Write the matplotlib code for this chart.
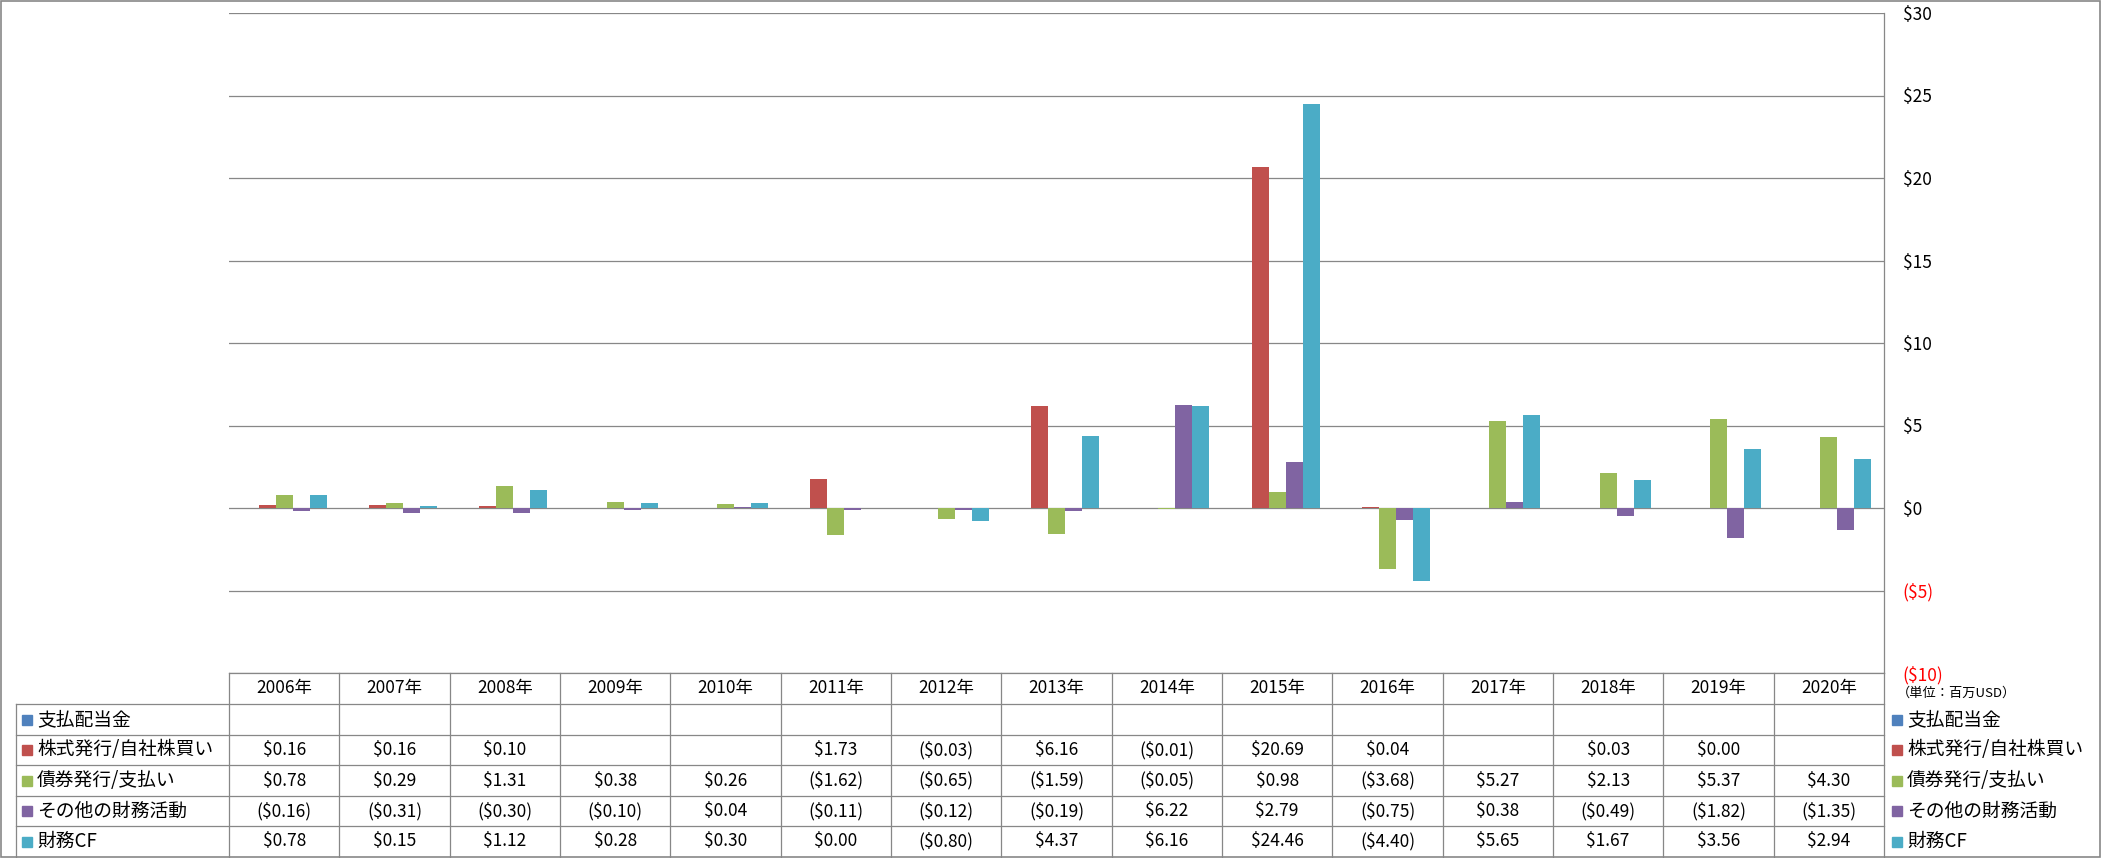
import numpy as np
import matplotlib
matplotlib.use("Agg")
import matplotlib.pyplot as plt
from matplotlib.lines import Line2D
from matplotlib.patches import Rectangle

plt.rcParams['font.family'] = ['Noto Sans CJK JP', 'DejaVu Sans']

# data (百万USD)
years = ["2006年", "2007年", "2008年", "2009年", "2010年", "2011年", "2012年", "2013年",
         "2014年", "2015年", "2016年", "2017年", "2018年", "2019年", "2020年"]
series_names = ["支払配当金", "株式発行/自社株買い", "債券発行/支払い", "その他の財務活動", "財務CF"]
dividends = [None] * 15
stock = [0.16, 0.16, 0.10, None, None, 1.73, -0.03, 6.16, -0.01, 20.69, 0.04, None, 0.03, 0.00, None]
bonds = [0.78, 0.29, 1.31, 0.38, 0.26, -1.62, -0.65, -1.59, -0.05, 0.98, -3.68, 5.27, 2.13, 5.37, 4.30]
other = [-0.16, -0.31, -0.30, -0.10, 0.04, -0.11, -0.12, -0.19, 6.22, 2.79, -0.75, 0.38, -0.49, -1.82, -1.35]
fin_cf = [0.78, 0.15, 1.12, 0.28, 0.30, 0.00, -0.80, 4.37, 6.16, 24.46, -4.40, 5.65, 1.67, 3.56, 2.94]
colors = ["#4F81BD", "#C0504D", "#9BBB59", "#8064A2", "#4BACC6"]
all_series = [dividends, stock, bonds, other, fin_cf]

W, H = 2101, 858
GRAY = "#878787"


def fx(px):
    return px / W


def fy(py):
    return 1 - py / H


def money(v):
    if v is None:
        return ""
    if v < 0:
        return "(${:.2f})".format(-v)
    return "${:.2f}".format(v)


fig = plt.figure(figsize=(W / 100, H / 100), dpi=100)

left, right, top, bottom = 229, 1884, 13, 673
ax = fig.add_axes([fx(left), fy(bottom), fx(right) - fx(left), fy(top) - fy(bottom)])

n = len(years)
w = 1 / 6.5
x = np.arange(n)
for k, vals in enumerate(all_series):
    idx = [i for i, v in enumerate(vals) if v is not None]
    if idx:
        ax.bar(x[idx] + (k - 2) * w, [vals[i] for i in idx], width=w, color=colors[k], zorder=3)

ticks = np.arange(-10, 31, 5)
ax.set_xlim(-0.5, n - 0.5)
ax.set_ylim(-10, 30)
ax.set_yticks(ticks)
ax.set_yticklabels([money(v).replace(".00", "") for v in ticks])
ax.yaxis.tick_right()
ax.tick_params(axis="y", length=0, pad=13.5, labelsize=12.5)
for t, v in zip(ax.yaxis.get_major_ticks(), ticks):
    t.label2.set_color("red" if v < 0 else "black")
ax.set_xticks([])
ax.grid(axis="y", color=GRAY, linewidth=0.9, zorder=0)
for s in ["left", "top", "bottom"]:
    ax.spines[s].set_visible(False)
ax.spines["right"].set_color(GRAY)
ax.spines["right"].set_linewidth(0.9)


def hline(x0, x1, y):
    fig.add_artist(Line2D([fx(x0), fx(x1)], [fy(y), fy(y)], transform=fig.transFigure,
                          color=GRAY, linewidth=0.9))


def vline(xp, y0, y1):
    fig.add_artist(Line2D([fx(xp), fx(xp)], [fy(y0), fy(y1)], transform=fig.transFigure,
                          color=GRAY, linewidth=0.9))


# table below the chart
colw = (right - left) / n
row_edges = [673, 704, 735, 765, 796, 826, 857]
hline(left, right, row_edges[0])
for y in row_edges[1:-1]:
    hline(16, right, y)
for i in range(n + 1):
    vline(left + i * colw, row_edges[0], row_edges[-1])
vline(16, row_edges[1], row_edges[-1])

for i, yr in enumerate(years):
    fig.text(fx(left + (i + 0.5) * colw), fy((row_edges[0] + row_edges[1]) / 2), yr,
             ha="center", va="center", fontsize=12.5)

for r, (name, vals) in enumerate(zip(series_names, all_series)):
    yc = (row_edges[r + 1] + row_edges[r + 2]) / 2
    # row label with marker
    fig.add_artist(Rectangle((fx(22), fy(yc + 5)), 10 / W, 10 / H, transform=fig.transFigure,
                             color=colors[r]))
    fig.text(fx(37), fy(yc), name, ha="left", va="center", fontsize=13.5)
    for i, v in enumerate(vals):
        fig.text(fx(left + (i + 0.5) * colw), fy(yc), money(v), ha="center", va="center", fontsize=12.5)
    # legend on the right
    fig.add_artist(Rectangle((fx(1892), fy(yc + 5)), 10 / W, 10 / H, transform=fig.transFigure,
                             color=colors[r]))
    fig.text(fx(1907), fy(yc), name, ha="left", va="center", fontsize=13.5)

fig.text(fx(1897), fy(693), "（単位：百万USD）", ha="left", va="center", fontsize=9.5)

# outer frame
fig.add_artist(Rectangle((0.0005, 0.001), 0.999, 0.998, transform=fig.transFigure,
                         fill=False, edgecolor=GRAY, linewidth=1.2))

fig.savefig("out.png", dpi=100)
